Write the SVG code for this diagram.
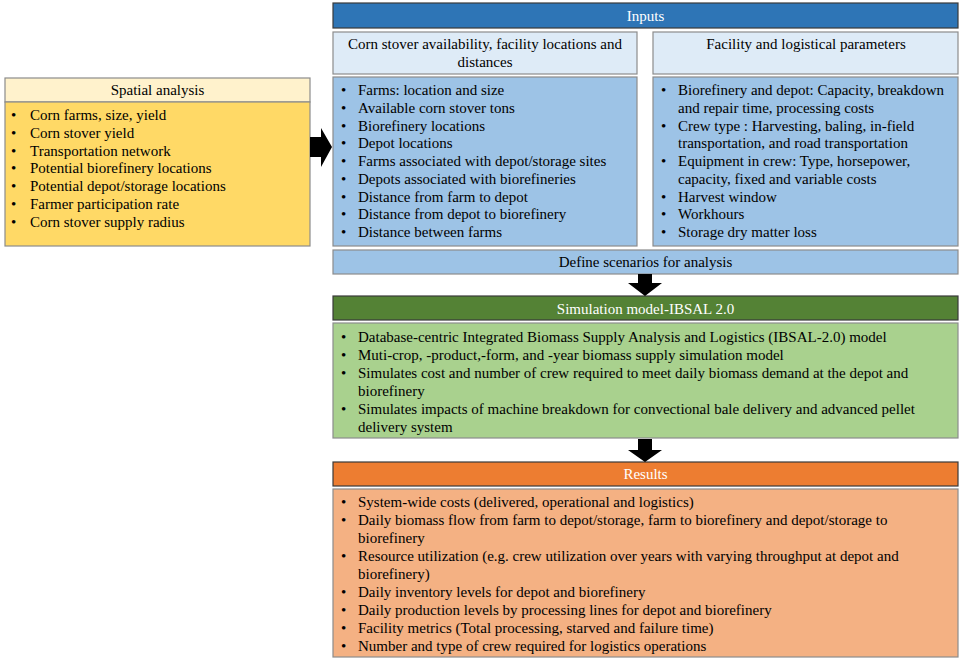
<svg xmlns="http://www.w3.org/2000/svg" width="963" height="663" viewBox="0 0 963 663">
<style>
text{font-family:"Liberation Serif","Times New Roman",serif;font-size:15px;fill:#000}
.c{text-anchor:middle}
.w{fill:#fff}
.bd{stroke:#8c8c8c;stroke-width:1.2}
.hd{stroke:#3a3a3a;stroke-width:1.2}
.arrow{fill:#000}
</style>
<rect width="963" height="663" fill="#fff"/>
<g id="spatial">
<rect x="5" y="78" width="305" height="24" fill="#FFF2CC" class="bd"/>
<rect x="5" y="102" width="305" height="144" fill="#FFD966" class="bd"/>
<text class="c" x="157.5" y="95">Spatial analysis</text>
<g>
<text x="11" y="120">•</text><text x="30" y="120">Corn farms, size, yield</text>
<text x="11" y="137.8">•</text><text x="30" y="137.8">Corn stover yield</text>
<text x="11" y="155.6">•</text><text x="30" y="155.6">Transportation network</text>
<text x="11" y="173.4">•</text><text x="30" y="173.4">Potential biorefinery locations</text>
<text x="11" y="191.2">•</text><text x="30" y="191.2">Potential depot/storage locations</text>
<text x="11" y="209">•</text><text x="30" y="209">Farmer participation rate</text>
<text x="11" y="226.8">•</text><text x="30" y="226.8">Corn stover supply radius</text>
</g>
</g>
<g id="inputs">
<rect x="333" y="3" width="625" height="25" fill="#2E75B6" class="hd"/>
<text class="c w" x="645.5" y="21">Inputs</text>
</g>
<g id="inputs-left">
<rect x="333" y="32" width="304" height="42" fill="#DEEBF7" class="bd"/>
<text class="c" x="485" y="49">Corn stover availability, facility locations and</text>
<text class="c" x="485" y="67">distances</text>
<rect x="333" y="77" width="304" height="169" fill="#9DC3E6" class="bd"/>
<text x="341" y="95">•</text><text x="358" y="95">Farms: location and size</text>
<text x="341" y="112.75">•</text><text x="358" y="112.75">Available corn stover tons</text>
<text x="341" y="130.5">•</text><text x="358" y="130.5">Biorefinery locations</text>
<text x="341" y="148.25">•</text><text x="358" y="148.25">Depot locations</text>
<text x="341" y="166">•</text><text x="358" y="166">Farms associated with depot/storage sites</text>
<text x="341" y="183.75">•</text><text x="358" y="183.75">Depots associated with biorefineries</text>
<text x="341" y="201.5">•</text><text x="358" y="201.5">Distance from farm to depot</text>
<text x="341" y="219.25">•</text><text x="358" y="219.25">Distance from depot to biorefinery</text>
<text x="341" y="237">•</text><text x="358" y="237">Distance between farms</text>
</g>
<g id="inputs-right">
<rect x="653" y="32" width="305" height="42" fill="#DEEBF7" class="bd"/>
<text class="c" x="806" y="49">Facility and logistical parameters</text>
<rect x="653" y="77" width="305" height="169" fill="#9DC3E6" class="bd"/>
<text x="661" y="95">•</text><text x="678" y="95">Biorefinery and depot: Capacity, breakdown</text>
<text x="678" y="112.75">and repair time, processing costs</text>
<text x="661" y="130.5">•</text><text x="678" y="130.5">Crew type : Harvesting, baling, in-field</text>
<text x="678" y="148.25">transportation, and road transportation</text>
<text x="661" y="166">•</text><text x="678" y="166">Equipment in crew: Type, horsepower,</text>
<text x="678" y="183.75">capacity, fixed and variable costs</text>
<text x="661" y="201.5">•</text><text x="678" y="201.5">Harvest window</text>
<text x="661" y="219.25">•</text><text x="678" y="219.25">Workhours</text>
<text x="661" y="237">•</text><text x="678" y="237">Storage dry matter loss</text>
</g>
<g id="scenarios">
<rect x="333" y="250" width="625" height="24" fill="#9DC3E6" class="bd"/>
<text class="c" x="645.5" y="267">Define scenarios for analysis</text>
</g>
<g id="simulation">
<rect x="333" y="296" width="625" height="24" fill="#548235" class="hd"/>
<text class="c w" x="645.5" y="314">Simulation model-IBSAL 2.0</text>
<rect x="333" y="323" width="625" height="115" fill="#A9D18E" class="bd"/>
<text x="341" y="342">•</text><text x="358" y="342">Database-centric Integrated Biomass Supply Analysis and Logistics (IBSAL-2.0) model</text>
<text x="341" y="360">•</text><text x="358" y="360">Muti-crop, -product,-form, and -year biomass supply simulation model</text>
<text x="341" y="378">•</text><text x="358" y="378">Simulates cost and number of crew required to meet daily biomass demand at the depot and</text>
<text x="358" y="396">biorefinery</text>
<text x="341" y="414">•</text><text x="358" y="414">Simulates impacts of machine breakdown for convectional bale delivery and advanced pellet</text>
<text x="358" y="432">delivery system</text>
</g>
<g id="results">
<rect x="333" y="462" width="625" height="24" fill="#ED7D31" class="hd"/>
<text class="c w" x="645.5" y="479">Results</text>
<rect x="333" y="489" width="625" height="168" fill="#F4B183" class="bd"/>
<text x="341" y="507">•</text><text x="358" y="507">System-wide costs (delivered, operational and logistics)</text>
<text x="341" y="525">•</text><text x="358" y="525">Daily biomass flow from farm to depot/storage, farm to biorefinery and depot/storage to</text>
<text x="358" y="543">biorefinery</text>
<text x="341" y="561">•</text><text x="358" y="561">Resource utilization (e.g. crew utilization over years with varying throughput at depot and</text>
<text x="358" y="579">biorefinery)</text>
<text x="341" y="597">•</text><text x="358" y="597">Daily inventory levels for depot and biorefinery</text>
<text x="341" y="615">•</text><text x="358" y="615">Daily production levels by processing lines for depot and biorefinery</text>
<text x="341" y="633">•</text><text x="358" y="633">Facility metrics (Total processing, starved and failure time)</text>
<text x="341" y="651">•</text><text x="358" y="651">Number and type of crew required for logistics operations</text>
</g>
<g id="connectors">
<polygon class="arrow" points="310,137 321,137 321,128 332,147 321,167 321,157 310,157"/>
<polygon class="arrow" points="638,274 652,274 652,283 662,283 645,296 628,283 638,283"/>
<polygon class="arrow" points="638,439 652,439 652,450 662,450 645,462 628,450 638,450"/>
</g>
</svg>
